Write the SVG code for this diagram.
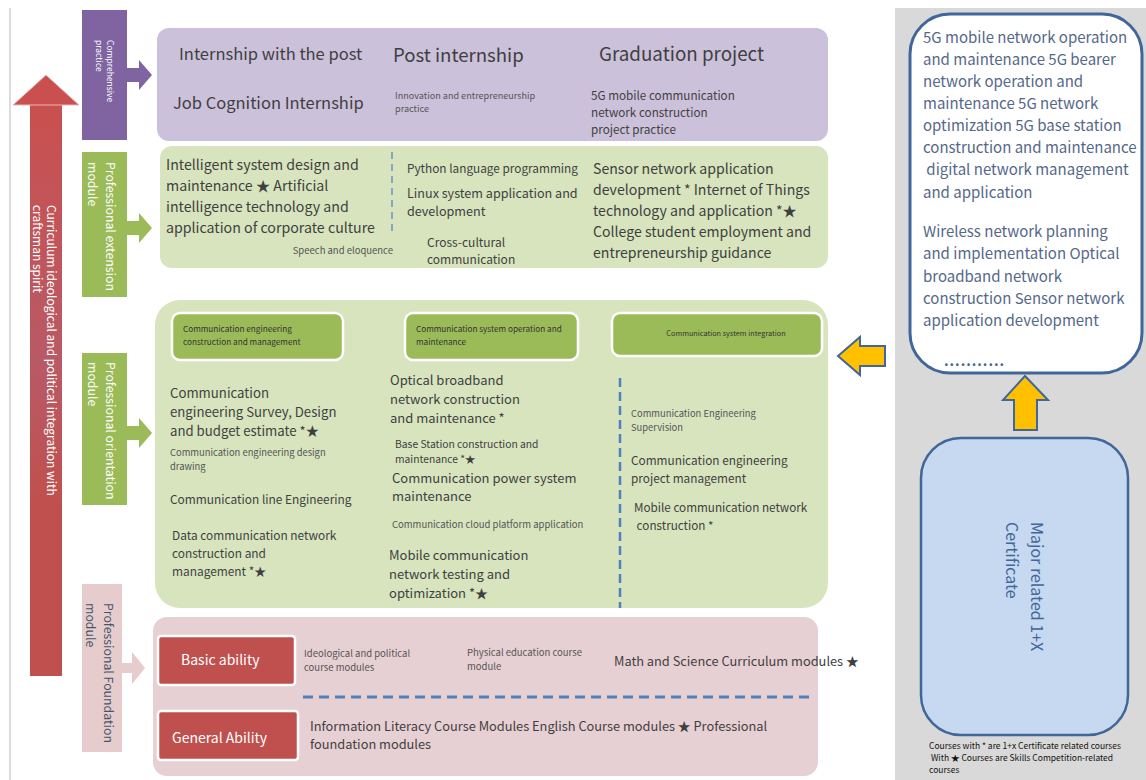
<svg xmlns="http://www.w3.org/2000/svg" width="1146" height="780" viewBox="0 0 1146 780">
<defs>
<linearGradient id="redShaft" x1="0" y1="0" x2="0" y2="1">
<stop offset="0" stop-color="#c9504e"/>
<stop offset="0.45" stop-color="#b85a66"/>
<stop offset="0.7" stop-color="#c0504d"/>
<stop offset="1" stop-color="#c0504d"/>
</linearGradient>
</defs>
<style>
text{font-family:"Noto Sans CJK SC","Noto Sans",sans-serif;}
.t{fill:#3f3f3f;}
.s{fill:#555;}
.w{fill:#fff;}
.rb{fill:#55688a;}
.hdr{fill:#9bbb59;stroke:#fff;stroke-width:2.5;}
.red{fill:#c0504d;stroke:#fff;stroke-width:2.5;}
.dash{stroke:#4f81bd;fill:none;}
</style>
<rect width="1146" height="780" fill="#fff"/>
<line x1="10" y1="8" x2="10" y2="780" stroke="#d0d0d0" stroke-width="1.5"/>

<g id="ideology-arrow">
<rect x="30" y="104" width="32" height="572" fill="url(#redShaft)"/>
<polygon points="46,75 79,105 13,105" fill="#c9504e" stroke="#e8b8b6" stroke-width="1"/>
<text class="w" font-size="12" transform="translate(47,205) rotate(90)"><tspan x="0" y="0">Curriculum ideological and political integration with</tspan><tspan x="0" y="14">craftsman spirit</tspan></text>
</g>

<g id="right-bg"><rect x="895" y="8" width="251" height="772" fill="#d9d9d9"/></g>

<g id="mod-comprehensive">
<rect x="82" y="10" width="45" height="130" fill="#8064a2"/>
<text class="w" font-size="8.5" transform="translate(107,40) rotate(90)"><tspan x="0" y="0">Comprehensive</tspan><tspan x="0" y="11">practice</tspan></text>
</g>
<g id="mod-extension">
<rect x="82" y="152" width="45" height="145" fill="#9bbb59"/>
<text class="w" font-size="12.3" transform="translate(106,162) rotate(90)"><tspan x="0" y="0">Professional extension</tspan><tspan x="0" y="18">module</tspan></text>
</g>
<g id="mod-orientation">
<rect x="82" y="353" width="45" height="152" fill="#9bbb59"/>
<text class="w" font-size="12.3" transform="translate(106,362) rotate(90)"><tspan x="0" y="0">Professional orientation</tspan><tspan x="0" y="18">module</tspan></text>
</g>
<g id="mod-foundation">
<rect x="82" y="584" width="40" height="168" fill="#e6cccc"/>
<text fill="#44546a" font-size="12.3" transform="translate(104,603) rotate(90)"><tspan x="0" y="0">Professional Foundation</tspan><tspan x="0" y="18">module</tspan></text>
</g>

<g id="connectors">
<polygon points="127,68 139,68 139,60 152,75 139,90 139,82 127,82" fill="#8064a2"/>
<polygon points="127,221 139,221 139,213 152,228 139,243 139,235 127,235" fill="#9bbb59"/>
<polygon points="127,426 139,426 139,418 152,433 139,448 139,440 127,440" fill="#9bbb59"/>
<polygon points="122,663 132,663 132,652 145,668 132,684 132,673 122,673" fill="#e6cccc"/>
<polygon points="838,356 860,337 860,346 885,346 885,366 860,366 860,375" fill="#ffc000" stroke="#41679a" stroke-width="2"/>
<polygon points="1025,376 1048,400 1037,400 1037,430 1014,430 1014,400 1003,400" fill="#ffc000" stroke="#41679a" stroke-width="2"/>
</g>

<g id="panel-practice">
<rect x="157" y="28" width="671" height="113" rx="12" fill="#ccc1da"/>
<text class="t" font-size="16.5" x="179" y="60">Internship with the post</text>
<text class="t" font-size="18.6" x="393" y="62">Post internship</text>
<text class="t" font-size="18.8" x="599" y="61">Graduation project</text>
<text class="t" font-size="16.5" x="173" y="109">Job Cognition Internship</text>
<text class="s" font-size="9.1" x="395" y="99"><tspan x="395">Innovation and entrepreneurship</tspan><tspan x="395" y="112">practice</tspan></text>
<text class="t" font-size="11.7" x="591" y="100"><tspan x="591">5G mobile communication</tspan><tspan x="591" y="117">network construction</tspan><tspan x="591" y="134">project practice</tspan></text>
</g>

<g id="panel-extension">
<rect x="160" y="146" width="668" height="122" rx="12" fill="#d7e4bd"/>
<text class="t" font-size="14.2" x="166" y="170"><tspan x="166">Intelligent system design and</tspan><tspan x="166" y="191">maintenance ★ Artificial</tspan><tspan x="166" y="212">intelligence technology and</tspan><tspan x="166" y="233">application of corporate culture</tspan></text>
<text class="s" font-size="9.5" x="393" y="254" text-anchor="end">Speech and eloquence</text>
<line class="dash" x1="392" y1="152" x2="392" y2="232" stroke-width="1.2" stroke-dasharray="7,5"/>
<text class="t" font-size="11.8" x="407" y="173">Python language programming</text>
<text class="t" font-size="12.6" x="407" y="198"><tspan x="407">Linux system application and</tspan><tspan x="407" y="216">development</tspan></text>
<text class="t" font-size="12" x="427" y="247"><tspan x="427">Cross-cultural</tspan><tspan x="427" y="264">communication</tspan></text>
<text class="t" font-size="14.1" x="593" y="174"><tspan x="593">Sensor network application</tspan><tspan x="593" y="195">development * Internet of Things</tspan><tspan x="593" y="216">technology and application *★</tspan><tspan x="593" y="237">College student employment and</tspan><tspan x="593" y="258">entrepreneurship guidance</tspan></text>
</g>

<g id="panel-orientation">
<rect x="155" y="300" width="673" height="308" rx="25" fill="#d7e4bd"/>
<rect class="hdr" x="172" y="313" width="171" height="47" rx="8"/>
<text fill="#333" font-size="8.2" x="183" y="332"><tspan x="183">Communication engineering</tspan><tspan x="183" y="345">construction and management</tspan></text>
<rect class="hdr" x="405" y="313" width="173" height="47" rx="8"/>
<text fill="#333" font-size="8.2" x="416" y="332"><tspan x="416">Communication system operation and</tspan><tspan x="416" y="345">maintenance</tspan></text>
<rect class="hdr" x="612" y="313" width="210" height="43" rx="8"/>
<text fill="#333" font-size="7.3" x="726" y="336" text-anchor="middle">Communication system integration</text>

<text class="t" font-size="13.2" x="170" y="398"><tspan x="170">Communication</tspan><tspan x="170" y="417">engineering Survey, Design</tspan><tspan x="170" y="436">and budget estimate *★</tspan></text>
<text class="s" font-size="9.4" x="170" y="456"><tspan x="170">Communication engineering design</tspan><tspan x="170" y="470">drawing</tspan></text>
<text class="t" font-size="11.9" x="170" y="504">Communication line Engineering</text>
<text class="t" font-size="11.9" x="172" y="540"><tspan x="172">Data communication network</tspan><tspan x="172" y="558">construction and</tspan><tspan x="172" y="576">management *★</tspan></text>

<text class="t" font-size="13" x="390" y="385"><tspan x="390">Optical broadband</tspan><tspan x="390" y="404">network construction</tspan><tspan x="390" y="423">and maintenance *</tspan></text>
<text class="t" font-size="10.3" x="395" y="448"><tspan x="395">Base Station construction and</tspan><tspan x="395" y="463">maintenance *★</tspan></text>
<text class="t" font-size="13" x="392" y="483"><tspan x="392">Communication power system</tspan><tspan x="392" y="501">maintenance</tspan></text>
<text class="s" font-size="9.5" x="392" y="528">Communication cloud platform application</text>
<text class="t" font-size="13" x="389" y="560"><tspan x="389">Mobile communication</tspan><tspan x="389" y="579">network testing and</tspan><tspan x="389" y="598">optimization *★</tspan></text>

<line class="dash" x1="620" y1="378" x2="620" y2="608" stroke-width="2.5" stroke-dasharray="9,5"/>
<text class="s" font-size="9.4" x="631" y="417"><tspan x="631">Communication Engineering</tspan><tspan x="631" y="431">Supervision</tspan></text>
<text class="t" font-size="11.8" x="631" y="465"><tspan x="631">Communication engineering</tspan><tspan x="631" y="483">project management</tspan></text>
<text class="t" font-size="11.7" x="634" y="512"><tspan x="634">Mobile communication network</tspan><tspan x="634" y="530"> construction *</tspan></text>
</g>

<g id="panel-foundation">
<rect x="153" y="617" width="665" height="159" rx="14" fill="#e7d0d3"/>
<rect class="red" x="158" y="636" width="137" height="49" rx="3"/>
<text class="w" font-size="14" x="181" y="665">Basic ability</text>
<rect class="red" x="158" y="711" width="140" height="49" rx="3"/>
<text class="w" font-size="14" x="172" y="743">General Ability</text>
<text class="s" font-size="9.5" x="304" y="657"><tspan x="304">Ideological and political</tspan><tspan x="304" y="671">course modules</tspan></text>
<text class="s" font-size="9.5" x="467" y="656"><tspan x="467">Physical education course</tspan><tspan x="467" y="670">module</tspan></text>
<text class="t" font-size="12.8" x="614" y="666">Math and Science Curriculum modules ★</text>
<line class="dash" x1="303" y1="697" x2="815" y2="697" stroke-width="3" stroke-dasharray="10,6"/>
<text class="t" font-size="12.8" x="310" y="731"><tspan x="310">Information Literacy Course Modules English Course modules ★ Professional</tspan><tspan x="310" y="749">foundation modules</tspan></text>
</g>

<g id="cert-list">
<rect x="910" y="14" width="232" height="359" rx="40" fill="#fff" stroke="#41679a" stroke-width="3"/>
<text class="rb" font-size="15" x="923" y="43"><tspan x="923">5G mobile network operation</tspan><tspan x="923" y="65">and maintenance 5G bearer</tspan><tspan x="923" y="87">network operation and</tspan><tspan x="923" y="109">maintenance 5G network</tspan><tspan x="923" y="131">optimization 5G base station</tspan><tspan x="923" y="153">construction and maintenance</tspan><tspan x="923" y="175"> digital network management</tspan><tspan x="923" y="198">and application</tspan></text>
<text class="rb" font-size="15" x="923" y="237"><tspan x="923">Wireless network planning</tspan><tspan x="923" y="259">and implementation Optical</tspan><tspan x="923" y="282">broadband network</tspan><tspan x="923" y="304">construction Sensor network</tspan><tspan x="923" y="326">application development</tspan></text>
<text fill="#41679a" font-size="14" font-weight="bold" letter-spacing="1" x="944" y="366">...........</text>
</g>

<g id="cert-major">
<rect x="921" y="438" width="207" height="297" rx="40" fill="#c6d9f1" stroke="#41679a" stroke-width="2.5"/>
<text fill="#41679a" font-size="16" transform="translate(1031,522) rotate(90)"><tspan x="0" y="0">Major related 1+X</tspan><tspan x="0" y="25">Certificate</tspan></text>
</g>

<g id="legend">
<text fill="#111" font-size="8.5" x="929" y="749"><tspan x="929">Courses with * are 1+x Certificate related courses</tspan><tspan x="929" y="761"> With ★ Courses are Skills Competition-related</tspan><tspan x="929" y="773">courses</tspan></text>
</g>
</svg>
